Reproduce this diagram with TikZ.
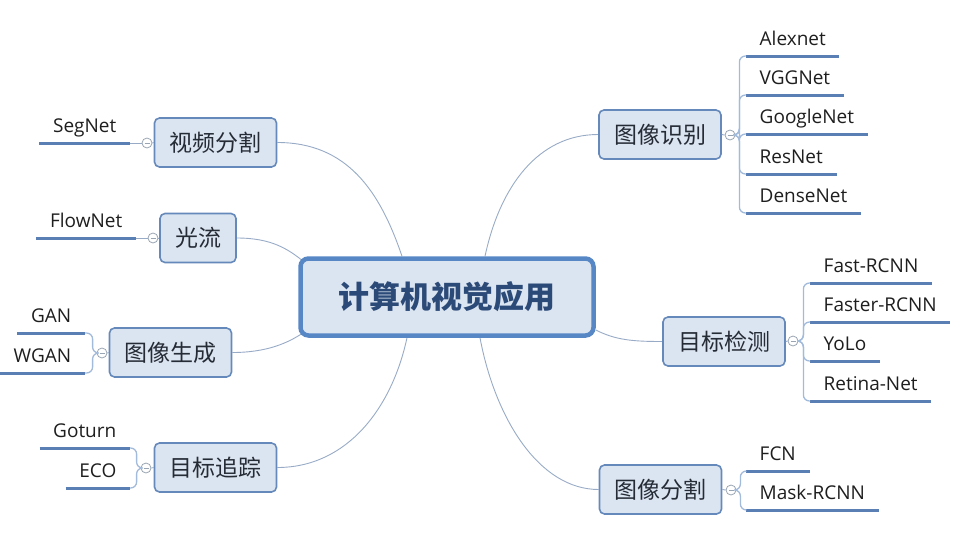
\documentclass[tikz,border=0pt]{standalone}
\usepackage{fontspec}
\setmainfont{Open Sans}
\newfontfamily\cjk{Noto Sans CJK SC}
\usetikzlibrary{backgrounds}

\definecolor{boxfill}{HTML}{DBE5F1}
\definecolor{boxline}{HTML}{6689BC}
\definecolor{mainline}{HTML}{5887C6}
\definecolor{roottext}{HTML}{2C4A78}
\definecolor{topictext}{HTML}{262C36}
\definecolor{leaftext}{HTML}{1E1E1E}
\definecolor{linkcol}{HTML}{98ABC6}
\definecolor{bracecol}{HTML}{A3BBDB}
\definecolor{ulinecol}{HTML}{5A7FB5}
\definecolor{foldline}{HTML}{9AA5B3}

\begin{document}
\begin{tikzpicture}[x=1pt, y=-1pt,
  root/.style={draw=mainline, fill=boxfill, line width=4.5pt, rounded corners=8pt,
    minimum width=293pt, minimum height=77pt, text=roottext,
    font=\cjk\bfseries\fontsize{31}{34}\selectfont},
  topic/.style={draw=boxline, fill=boxfill, line width=1.6pt, rounded corners=5pt,
    minimum height=49pt, inner xsep=15pt, text=topictext,
    font=\cjk\fontsize{23}{26}\selectfont},
  leaf/.style={inner xsep=13.5pt, inner ysep=10pt, text depth=0pt, text=leaftext,
    font=\fontsize{19}{22}\selectfont},
  fold/.style={circle, draw=foldline, fill=white, line width=0.8pt, minimum size=10pt,
    inner sep=0pt, path picture={\draw[foldline, line width=0.7pt]
      ([xshift=-2.5pt]path picture bounding box.center) --
      ([xshift=2.5pt]path picture bounding box.center);}},
  link/.style={draw=linkcol, line width=0.9pt},
  brace/.style={draw=bracecol, line width=1.3pt, rounded corners=6pt},
  uline/.style={draw=ulinecol, line width=3pt}]
  \useasboundingbox (0,0) rectangle (954,552);

  % centre and main branches
  \node[root] (main) at (447,297) {计算机视觉应用};
  \node[topic] (seg) at (215.5,142.5) {视频分割};
  \node[topic] (flow) at (198,238) {光流};
  \node[topic] (gen) at (170.5,352.5) {图像生成};
  \node[topic] (track) at (215.5,467.5) {目标追踪};
  \node[topic] (recog) at (660,134.5) {图像识别};
  \node[topic] (det) at (724,341.5) {目标检测};
  \node[topic] (part) at (660.5,489.5) {图像分割};

  \begin{scope}[on background layer]
    \draw[link] (seg.east) .. controls +(70,0) and +(-22,-65) .. ([xshift=-45pt]main.north);
    \draw[link] ([xshift=38pt]main.north) .. controls +(15,-70) and +(-60,0) .. (recog.west);
    \draw[link] (flow.east) .. controls +(35,0) and +(-15,-12) .. ([xshift=5pt,yshift=-5pt]main.north west);
    \draw[link] (gen.east) .. controls +(35,0) and +(-15,10) .. ([xshift=5pt,yshift=5pt]main.south west);
    \draw[link] ([xshift=-40pt]main.south) .. controls +(-15,70) and +(70,0) .. (track.east);
    \draw[link] ([xshift=33pt]main.south) .. controls +(15,80) and +(-60,0) .. (part.west);
    \draw[link] ([yshift=-33pt]main.east) .. controls +(20,10) and +(-30,0) .. (det.west);
  \end{scope}

  % fold markers
  \node[fold] (fseg) at (147,143) {};
  \node[fold] (fflow) at (153,238) {};
  \node[fold] (fgen) at (102,353) {};
  \node[fold] (ftrack) at (146,468) {};
  \node[fold] (frecog) at (730,135) {};
  \node[fold] (fdet) at (793,341) {};
  \node[fold] (fpart) at (731,490) {};
  \draw[link] (seg.west) -- (fseg.east);
  \draw[link] (flow.west) -- (fflow.east);
  \draw[link] (gen.west) -- (fgen.east);
  \draw[link] (track.west) -- (ftrack.east);
  \draw[link] (recog.east) -- (frecog.west);
  \draw[link] (det.east) -- (fdet.west);
  \draw[link] (part.east) -- (fpart.west);

  % right leaves
  \foreach \name/\y [count=\i] in {Alexnet/56, VGGNet/95, GoogleNet/134, ResNet/174, DenseNet/213} {
    \node[leaf, anchor=south west] (rec\i) at (746,\y) {\name};
    \draw[uline] (rec\i.south west) -- (rec\i.south east);
    \draw[brace] (frecog.east) -- ++(4,0) |- (rec\i.south west);
  }
  \foreach \name/\y [count=\i] in {Fast-RCNN/283, Faster-RCNN/322, YoLo/361, Retina-Net/401} {
    \node[leaf, anchor=south west] (det\i) at (810,\y) {\name};
    \draw[uline] (det\i.south west) -- (det\i.south east);
    \draw[brace] (fdet.east) -- ++(5,0) |- (det\i.south west);
  }
  \foreach \name/\y [count=\i] in {FCN/471, Mask-RCNN/510} {
    \node[leaf, anchor=south west] (part\i) at (746,\y) {\name};
    \draw[uline] (part\i.south west) -- (part\i.south east);
    \draw[brace] (fpart.east) -- ++(4,0) |- (part\i.south west);
  }

  % left leaves
  \node[leaf, anchor=south east] (seg1) at (130,143) {SegNet};
  \draw[uline] (seg1.south west) -- (seg1.south east);
  \draw[link] (fseg.west) -- (seg1.south east);
  \node[leaf, anchor=south east] (flow1) at (136,238) {FlowNet};
  \draw[uline] (flow1.south west) -- (flow1.south east);
  \draw[link] (fflow.west) -- (flow1.south east);
  \foreach \name/\y [count=\i] in {GAN/333, WGAN/373} {
    \node[leaf, anchor=south east] (gen\i) at (85,\y) {\name};
    \draw[uline] (gen\i.south west) -- (gen\i.south east);
    \draw[brace] (fgen.west) -- ++(-4,0) |- (gen\i.south east);
  }
  \foreach \name/\y [count=\i] in {Goturn/448, ECO/488} {
    \node[leaf, anchor=south east] (track\i) at (130,\y) {\name};
    \draw[uline] (track\i.south west) -- (track\i.south east);
    \draw[brace] (ftrack.west) -- ++(-4,0) |- (track\i.south east);
  }
\end{tikzpicture}
\end{document}
